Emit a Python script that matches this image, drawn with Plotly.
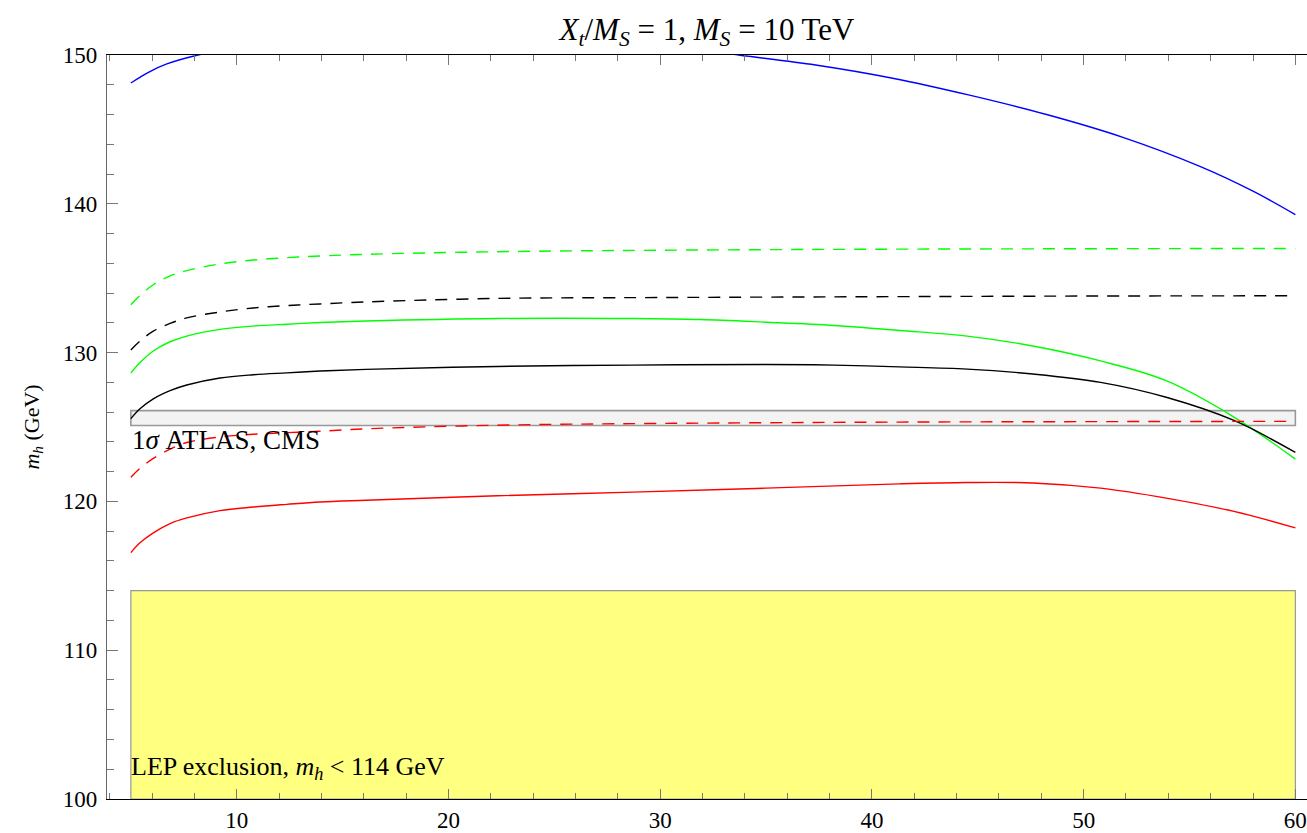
import plotly.graph_objects as go

# Higgs mass vs tan(beta) style scan, X_t/M_S = 1, M_S = 10 TeV
blue_x = [5, 5.43, 5.9, 6.7, 8.03, 10, 13, 16, 20, 25, 30, 33.7, 37.34, 40.98, 44.61, 48.25, 51.89, 55.52, 58, 60]
blue_y = [148.12, 148.5, 148.89, 149.4, 149.95, 150.5, 151.0, 151.25, 151.35, 151.2, 150.7, 150.0, 149.33, 148.44, 147.3, 146.0, 144.45, 142.5, 140.85, 139.27]

green_dash_x = [5, 5.43, 6.06, 6.85, 7.64, 9.21, 10.78, 12.36, 13.93, 16, 22.3, 30, 41, 50, 60]
green_dash_y = [133.22, 133.84, 134.56, 135.16, 135.51, 135.96, 136.22, 136.38, 136.49, 136.6, 136.78, 136.88, 136.95, 136.98, 137.0]

black_dash_x = [5, 5.43, 6.06, 6.85, 7.64, 9.21, 10.78, 12.36, 13.93, 16, 22.3, 30, 41, 50, 60]
black_dash_y = [130.18, 130.78, 131.44, 131.96, 132.33, 132.73, 133.0, 133.16, 133.27, 133.4, 133.64, 133.7, 133.76, 133.8, 133.82]

green_x = [5, 5.43, 6.06, 6.85, 7.64, 9.21, 10.78, 12.36, 13.93, 16.1, 22.3, 28.7, 31.9, 35, 38.2, 41.3, 44.5, 47.6, 50.8, 53.9, 57.1, 60]
green_y = [128.62, 129.33, 130.11, 130.73, 131.11, 131.56, 131.78, 131.91, 132.02, 132.12, 132.29, 132.29, 132.22, 132.04, 131.82, 131.49, 131.11, 130.44, 129.44, 128.11, 125.67, 122.84]

black_x = [5, 5.43, 6.06, 6.85, 7.64, 9.21, 10.78, 12.36, 13.93, 16.1, 22.3, 28.7, 35, 38.2, 41.3, 44.5, 47.6, 50.8, 53.9, 57.1, 60]
black_y = [125.56, 126.22, 126.89, 127.44, 127.82, 128.29, 128.51, 128.64, 128.76, 128.87, 129.07, 129.16, 129.2, 129.16, 129.04, 128.89, 128.56, 128.0, 127.0, 125.44, 123.29]

red_dash_x = [5, 5.43, 6.06, 6.85, 7.64, 9.21, 10.78, 12.36, 13.93, 16.1, 22.3, 30, 41.3, 50, 60]
red_dash_y = [121.62, 122.22, 122.89, 123.51, 123.96, 124.33, 124.51, 124.62, 124.71, 124.88, 125.12, 125.24, 125.33, 125.36, 125.38]

red_x = [5, 5.43, 6.06, 6.85, 7.64, 9.21, 10.78, 12.36, 13.93, 16.1, 22.3, 28.7, 35, 41.3, 44.5, 47.6, 50.8, 53.9, 57.1, 60]
red_y = [116.56, 117.22, 117.89, 118.51, 118.89, 119.38, 119.62, 119.8, 119.96, 120.08, 120.38, 120.62, 120.89, 121.18, 121.27, 121.24, 120.89, 120.22, 119.33, 118.22]

# Bands: LEP exclusion and 1-sigma ATLAS/CMS measurement
lep_x = [5, 60]
lep_y = [100, 114]
lhc_x = [5, 60]
lhc_y = [125.1, 126.1]

FONT = "Liberation Serif"
DASH = "12px,9px"

fig = go.Figure()

curves = [
    (blue_x, blue_y, "#0000ff", "solid"),
    (green_dash_x, green_dash_y, "#00ff00", DASH),
    (black_dash_x, black_dash_y, "#000000", DASH),
    (green_x, green_y, "#00ff00", "solid"),
    (black_x, black_y, "#000000", "solid"),
    (red_dash_x, red_dash_y, "#ff0000", DASH),
    (red_x, red_y, "#ff0000", "solid"),
]
for xs, ys, col, dash in curves:
    fig.add_trace(go.Scatter(
        x=xs, y=ys, mode="lines",
        line=dict(color=col, width=1.4, dash=dash, shape="spline", smoothing=1.0),
        showlegend=False, hoverinfo="skip",
    ))

fig.add_shape(type="rect", x0=lep_x[0], x1=lep_x[1], y0=lep_y[0], y1=lep_y[1],
              xref="x", yref="y", layer="below",
              fillcolor="#ffff80", line=dict(color="#999999", width=1.2))
fig.add_shape(type="rect", x0=lhc_x[0], x1=lhc_x[1], y0=lhc_y[0], y1=lhc_y[1],
              xref="x", yref="y", layer="below",
              fillcolor="#f3f3f3", line=dict(color="#999999", width=1.6))

fig.add_annotation(x=lhc_x[0], y=124.15, xref="x", yref="y",
                   text="1<i>σ</i> ATLAS, CMS", showarrow=False,
                   xanchor="left", yanchor="middle", xshift=-1,
                   font=dict(family=FONT, size=27, color="black"))
fig.add_annotation(x=lep_x[0], y=102.1, xref="x", yref="y",
                   text="LEP exclusion, <i>m</i><sub><i>h</i></sub> &lt; 114 GeV", showarrow=False,
                   xanchor="left", yanchor="middle", xshift=-2,
                   font=dict(family=FONT, size=26, color="black"))
fig.add_annotation(x=-0.062, y=0.5, xref="paper", yref="paper",
                   text="<i>m</i><sub><i>h</i></sub> (GeV)", showarrow=False,
                   textangle=-90, xanchor="center", yanchor="middle",
                   font=dict(family=FONT, size=22, color="black"))

fig.update_layout(
    width=1307, height=833,
    margin=dict(l=107, r=0, t=55, b=28),
    paper_bgcolor="white", plot_bgcolor="white",
    font=dict(family=FONT, color="black"),
    title=dict(text="<i>X</i><sub><i>t</i></sub>/<i>M</i><sub><i>S</i></sub> = 1, <i>M</i><sub><i>S</i></sub> = 10 TeV",
               x=0.5, xref="paper", y=1 - 29 / 833, yanchor="middle",
               font=dict(family=FONT, size=31, color="black")),
    xaxis=dict(
        range=[3.873, 60.55], showgrid=False, zeroline=False,
        showline=True, linecolor="black", linewidth=1.3, mirror="ticks",
        tickmode="array", tickvals=[10, 20, 30, 40, 50, 60],
        ticks="inside", ticklen=10, tickwidth=1, tickcolor="#777777",
        minor=dict(tickmode="array", tickvals=[4, 6, 8, 12, 14, 16, 18, 22, 24, 26, 28, 32, 34, 36, 38,
                                               42, 44, 46, 48, 52, 54, 56, 58],
                   ticks="inside", ticklen=6, tickwidth=1, tickcolor="#777777"),
        tickfont=dict(family=FONT, size=23, color="black"),
    ),
    yaxis=dict(
        range=[100, 150], showgrid=False, zeroline=False,
        showline=True, linecolor="#666666", linewidth=1.3,
        tickmode="array", tickvals=[100, 110, 120, 130, 140, 150],
        ticks="inside", ticklen=11, tickwidth=1, tickcolor="#777777",
        minor=dict(tickmode="array", tickvals=[102, 104, 106, 108, 112, 114, 116, 118, 122, 124, 126, 128,
                                               132, 134, 136, 138, 142, 144, 146, 148],
                   ticks="inside", ticklen=7, tickwidth=1, tickcolor="#777777"),
        tickfont=dict(family=FONT, size=23, color="black"),
        ticklabelstandoff=4,
    ),
)

fig.write_html("out.html")
